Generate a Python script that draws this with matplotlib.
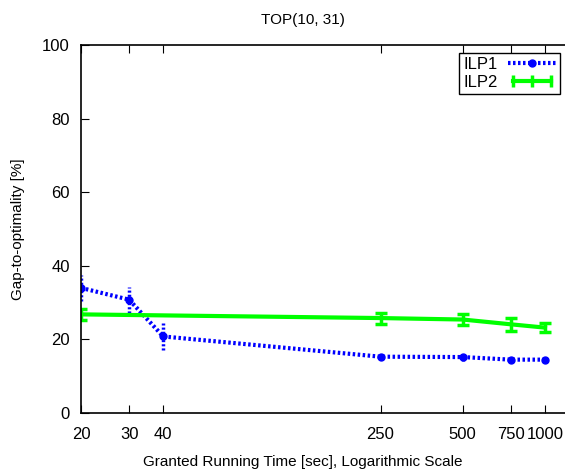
import matplotlib.pyplot as plt
import matplotlib.ticker as mticker
from matplotlib.lines import Line2D
from matplotlib.legend_handler import HandlerLine2D

plt.rcParams['font.family'] = ['Liberation Sans', 'DejaVu Sans']

# tempo concedido (s) e gap-to-optimality (%)
tempos = [20, 30, 40, 250, 500, 750, 1000]
ilp1 = [34.0, 30.8, 20.8, 15.3, 15.2, 14.5, 14.5]
ilp1_err = [3.6, 3.5, 3.7, 1.0, 1.0, 0.7, 0.7]
tempos2 = [20, 250, 500, 750, 1000]
ilp2 = [26.8, 25.8, 25.4, 24.1, 23.2]
ilp2_err = [1.5, 1.5, 1.5, 1.8, 1.2]

fig = plt.figure(figsize=(5.65, 4.71), dpi=100)
ax = fig.add_axes([81/565, 58/471, 1 - 81/565, 368/471])

pontilhado = (0, (0.6, 0.6))
eb1 = ax.errorbar(tempos, ilp1, yerr=ilp1_err, color='#0000ff', lw=3, ls=pontilhado,
                  marker='o', ms=5, capsize=0, elinewidth=2.5)
eb1[2][0].set_linestyle(pontilhado)
eb2 = ax.errorbar(tempos2, ilp2, yerr=ilp2_err, color='#00ff00', lw=3, ls='-',
                  capsize=4, capthick=2.5, elinewidth=2.5)

ax.set_xscale('log')
ax.set_xlim(20, 1184)
ax.set_ylim(0, 100)
ax.set_xticks(tempos)
ax.xaxis.set_major_formatter(mticker.FixedFormatter([str(t) for t in tempos]))
ax.xaxis.set_minor_locator(mticker.NullLocator())
ax.set_yticks([0, 20, 40, 60, 80, 100])
ax.tick_params(direction='in', length=6, labelsize=12, top=True, right=False)
ax.tick_params(axis='x', pad=10)
ax.tick_params(axis='y', pad=8)
ax.spines['right'].set_visible(False)
for s in ['left', 'bottom', 'top']:
    ax.spines[s].set_linewidth(1.2)

fig.text(303/565, 1 - 20/471, 'TOP(10, 31)', fontsize=11, ha='center', va='center')
fig.text(303/565, 1 - 462/471, 'Granted Running Time [sec], Logarithmic Scale',
         fontsize=11, ha='center', va='center')
fig.text(18/565, 1 - 229/471, 'Gap-to-optimality [%]', fontsize=11, ha='center',
         va='center', rotation=90)

h1 = Line2D([], [], color='#0000ff', lw=3, ls=pontilhado, marker='o', ms=5)
h2 = Line2D([], [], color='#00ff00', lw=3, ls='-', marker='|', ms=8, mew=2.5)
leg = ax.legend([h1, h2], ['ILP1', 'ILP2'], loc='upper right',
                bbox_to_anchor=(560/565, 1 - 53/471), bbox_transform=fig.transFigure,
                handler_map={h2: HandlerLine2D(numpoints=3)},
                markerfirst=False, fancybox=False, framealpha=1, edgecolor='black',
                fontsize=12, handlelength=2.9, borderpad=0.25, labelspacing=0.15,
                handletextpad=0.6, borderaxespad=0)
leg.get_frame().set_linewidth(1.0)

fig.savefig('out.png', dpi=100)
